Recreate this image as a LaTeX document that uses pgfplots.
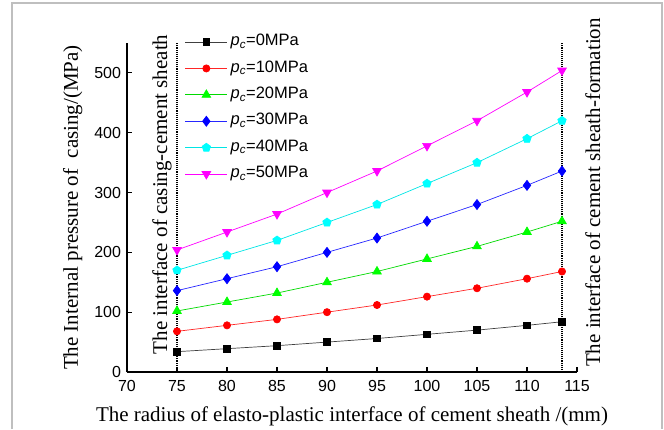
\documentclass[border=0pt]{standalone}
\usepackage{fontspec}
\setmainfont{Liberation Serif}
\newfontfamily\arial{Liberation Sans}
\usepackage{pgfplots}
\pgfplotsset{compat=1.18}
\usetikzlibrary{plotmarks}
\definecolor{cred}{RGB}{255,0,0}
\definecolor{cgreen}{RGB}{0,255,0}
\definecolor{cblue}{RGB}{0,0,255}
\definecolor{ccyan}{RGB}{0,255,255}
\definecolor{cmag}{RGB}{255,0,255}
\begin{document}
\begin{tikzpicture}[x=1pt,y=1pt]
\useasboundingbox (0,0) rectangle (664,429);
\draw[black!25, line width=1.5pt] (12,0) -- (12,426) -- (662,426) -- (662,0);
\begin{axis}[
  at={(127pt,57pt)}, anchor=south west,
  scale only axis, width=450pt, height=329pt,
  xmin=70, xmax=115, ymin=0, ymax=550,
  xtick={70,75,...,115}, ytick={0,100,...,500},
  axis x line*=bottom, axis y line*=left,
  axis line style={-, line width=1.1pt},
  tick align=inside, major tick length=5pt,
  tick style={line width=1.1pt, black},
  minor tick num=0,
  clip=false,
  /pgf/number format/assume math mode=true,
  ticklabel style={font=\arial\fontsize{16}{16}\selectfont},
  xticklabel style={yshift=-4.5pt},
  yticklabel style={xshift=-2.5pt},
  xlabel={The radius of elasto-plastic interface of cement sheath /(mm)},
  ylabel={The Internal pressure of\ \ casing/(MPa)},
  label style={font=\fontsize{21}{21}\selectfont},
  xlabel style={at={(axis description cs:0.5,-0.149)}, anchor=base},
  ylabel style={at={(axis description cs:-0.109,0.5)}, anchor=base},
  legend style={draw=none, fill=none, inner sep=0pt, outer sep=0pt,
    at={(axis description cs:0.1289,1.028)}, anchor=north west,
    row sep=9.9pt, column sep=3pt,
    font=\arial\fontsize{16.5}{16.5}\selectfont,
    nodes={inner sep=0pt, text height=12pt, text depth=4.5pt}},
  legend cell align=left,
  legend image code/.code={\draw[mark repeat=2,mark phase=2] plot coordinates {(0pt,0pt) (21pt,0pt) (42pt,0pt)};},
]
\addplot[black, densely dotted, line width=1.1pt, forget plot] coordinates {(75,0) (75,550)};
\addplot[black, densely dotted, line width=1.1pt, forget plot] coordinates {(113.5,0) (113.5,550)};
\addplot[black!75, line width=0.7pt, mark=square*, mark size=3.3pt, mark options={black, solid}] coordinates {
(75,34) (80,39) (85,44) (90,50) (95,56) (100,63) (105,70) (110,78) (113.5,84)};
\addlegendentry{\textit{p}\textsubscript{\textit{c}}=0MPa}
\addplot[cred!85, line width=0.7pt, mark=*, mark size=3.6pt, mark options={cred, solid}] coordinates {
(75,68) (80,78) (85,88) (90,100) (95,112) (100,126) (105,140) (110,156) (113.5,168)};
\addlegendentry{\textit{p}\textsubscript{\textit{c}}=10MPa}
\addplot[cgreen!85!black, line width=0.7pt, mark=triangle*, mark size=5pt, mark options={cgreen, solid}] coordinates {
(75,102) (80,117) (85,132) (90,150) (95,168) (100,189) (105,210) (110,234) (113.5,252)};
\addlegendentry{\textit{p}\textsubscript{\textit{c}}=20MPa}
\addplot[cblue!85, line width=0.7pt, mark=diamond*, mark size=5pt, mark options={cblue, solid}] coordinates {
(75,136) (80,156) (85,176) (90,200) (95,224) (100,252) (105,280) (110,312) (113.5,336)};
\addlegendentry{\textit{p}\textsubscript{\textit{c}}=30MPa}
\addplot[ccyan!90!black, line width=0.7pt, mark=pentagon*, mark size=4.4pt, mark options={ccyan, solid}] coordinates {
(75,170) (80,195) (85,220) (90,250) (95,280) (100,315) (105,350) (110,390) (113.5,420)};
\addlegendentry{\textit{p}\textsubscript{\textit{c}}=40MPa}
\addplot[cmag, line width=0.7pt, mark=triangle*, mark size=5pt, mark options={cmag, solid, rotate=180}] coordinates {
(75,204) (80,234) (85,264) (90,300) (95,336) (100,378) (105,420) (110,468) (113.5,504)};
\addlegendentry{\textit{p}\textsubscript{\textit{c}}=50MPa}
\node[rotate=90, anchor=base, font=\fontsize{21}{21}\selectfont] at (axis cs:74.0,297) {The interface of casing-cement sheath};
\node[rotate=90, anchor=base, font=\fontsize{21}{21}\selectfont] at (axis cs:117.3,300) {The interface of cement sheath-formation};
\end{axis}
\end{tikzpicture}
\end{document}
